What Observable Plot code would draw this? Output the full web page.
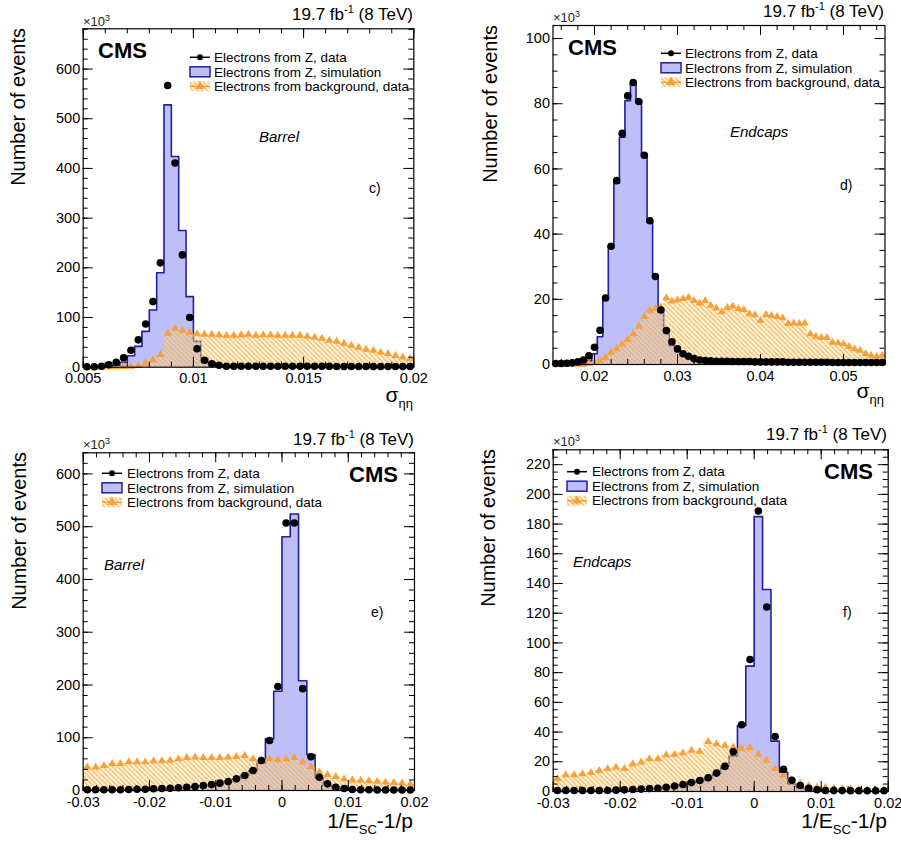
<!DOCTYPE html>
<html><head><meta charset="utf-8">
<script src="https://cdn.jsdelivr.net/npm/d3@7"></script>
<script src="https://cdn.jsdelivr.net/npm/@observablehq/plot@0.6"></script>
<style>
body{margin:0;background:#fff;}
#root{position:relative;width:901px;height:841px;font-family:"Liberation Sans",Arial,sans-serif;overflow:hidden;}
.panel{position:absolute;}
.panel svg{overflow:visible;}
#ov{position:absolute;left:0;top:0;pointer-events:none;}
</style></head><body>
<svg width="0" height="0" style="position:absolute"><defs>
<pattern id="hatch" patternUnits="userSpaceOnUse" width="3.4" height="3.4" patternTransform="rotate(-45)">
<rect width="3.4" height="3.4" fill="rgba(255,225,160,0.35)"/>
<line x1="1" y1="0" x2="1" y2="3.4" stroke="#f6ad4a" stroke-width="1.05"/>
</pattern></defs></svg>
<div id="root"></div>
<script>
// ---------- data (x10^3 events per bin) ----------
// panel c: sigma_ieta_ieta barrel, 45 bins 0.005-0.02
const c_range = [0.005, 0.02];
const c_data = [1,1,2,5,10,19,34,55,87,132,210,567,411,226,100,37,14,7,4,2,2,2,2,2,2,2,2,2,2,2,2,2,2,2,1.5,1.5,1.5,1.5,1.5,1.5,1.5,1.5,1.5,1.5,1.5];
const c_sim  = [0,0.5,1,2,4,10,23,42,72,115,190,528,424,275,142,52,18,7,3,1.5,1.5,1.5,1.5,1.5,1.5,1.5,1.5,1.5,1.5,1.5,1.2,1.2,1.2,1.2,1.2,1.2,1.2,1,1,1,1,1,1,1,1];
const c_bkg  = [0,0,0,0,0.5,1,1.5,3,8,14,25,68,78,74,70,67,66,66,65,64,64,65,66,64,65,65,64,64,64,64,62,60,58,54,52,48,44,40,36,34,30,27,23,20,17];
// panel d: sigma_ieta_ieta endcaps, 60 bins 0.015-0.055
const d_range = [0.015, 0.055];
const d_data = [0.3,0.3,0.4,0.5,0.8,1.4,2.7,5.3,10.5,20.4,36.3,56.4,70.9,82.4,86.5,80.7,64.2,44.1,27,16.7,10.4,7.0,4.8,3.3,2.5,1.8,1.4,1.2,1.1,1.0,1.0,1.0,0.9,0.9,0.9,0.9,0.8,0.8,0.8,0.8,0.8,0.8,0.7,0.7,0.7,0.7,0.7,0.7,0.7,0.7,0.6,0.6,0.6,0.6,0.6,0.6,0.6,0.6,0.6,0.6];
const d_sim  = [0,0,0,0,0.2,0.5,1.2,3.3,8.5,20,36.5,55.6,69.7,80.9,86.2,81,64.2,44,27.3,16,9.5,5.8,3.8,2.6,1.9,1.4,1.1,1.0,0.9,0.8,0.8,0.8,0.8,0.7,0.7,0.7,0.7,0.7,0.7,0.6,0.6,0.6,0.6,0.6,0.6,0.6,0.6,0.5,0.5,0.5,0.5,0.5,0.5,0.5,0.5,0.5,0.5,0.5,0.5,0.5];
const d_bkg  = [0,0,0,0,0,0,0.3,0.6,1.2,2.0,3.7,4.8,6.2,7.6,9.4,11.7,14.6,16.6,17.2,17.7,20.4,19.4,19.8,20.2,20.6,19.6,18.8,19.6,18.1,17.3,16.1,17.4,17.9,17.1,16.8,15.5,15.2,13.5,15.3,15.0,14.7,14.3,12.5,12.7,12.5,12.7,9.4,8.6,8.2,8.2,6.8,6.6,6.3,5.5,4.8,4.3,3.3,2.8,2.5,2.8];
// panel e: 1/E-1/p barrel, 40 bins -0.03-0.02
const e_range = [-0.03, 0.02];
const e_data = [1.3,1.3,1.3,1.3,1.3,1.9,2.5,2.5,3.2,3.8,4.4,5.1,6.3,7.6,9.5,11.4,13.9,17.1,22.1,28.4,37.9,56.9,94.8,197,507,507,193,64,25,12.6,6.3,3.8,1.9,1.3,1.3,1.0,1.0,1.0,1.0,1.0];
const e_sim  = [1.2,1.2,1.2,1.3,1.4,1.8,2.3,2.6,3.1,3.7,4.3,5.0,6.0,7.3,9.0,11,13.5,17,22,29,38,52,98,188,481,524,208,68,24,10,5,3,1.8,1.3,1.1,1,1,1,1,1];
const e_bkg  = [44,44,47,51,51,54,54,54,56,56,57,60,62,63,62,62,62,63,64,66,60,58,60,58,60,62,54,45,35,30,26,22,20,19,18,17,16,15,14,12];
// panel f: 1/E-1/p endcaps, 40 bins -0.03-0.02
const f_range = [-0.03, 0.02];
const f_data = [0.7,0.7,0.7,0.7,0.7,0.7,0.7,0.9,1.1,1.3,1.6,2.0,2.2,2.9,3.7,4.7,6.0,7.4,9.3,12.4,16.9,26.7,44.9,88.9,188.8,124.2,37.0,15.0,7.6,4.0,2.2,1.2,0.7,0.6,0.6,0.5,0.5,0.5,0.5,0.5];
const f_sim  = [0.6,0.6,0.6,0.6,0.7,0.7,0.7,0.9,1.0,1.2,1.5,1.9,2.1,2.8,3.5,4.5,5.7,7.0,9.0,12,17,24,44.4,84.4,185,136,33.9,13,5,2.5,1.3,0.8,0.6,0.5,0.5,0.5,0.5,0.5,0.5,0.5];
const f_bkg  = [8.7,11.2,11.2,11.9,12.6,14.1,15.3,16.4,15.3,18.6,19.8,22.0,22.0,24.7,24.9,26.0,27.6,26.9,33.5,32.1,31.0,29.8,29.0,29.5,25.0,21.0,15.3,11,8,5.5,4,3,2.5,2,1.8,1.5,1.3,1.2,1.1,1.0];

// ---------- axes ----------
const c_xticks = [0.005, 0.01, 0.015, 0.02], c_xlabels = ["0.005","0.01","0.015","0.02"];
const c_yticks = [0,100,200,300,400,500,600];
const d_xticks = [0.02, 0.03, 0.04, 0.05], d_xlabels = ["0.02","0.03","0.04","0.05"];
const d_yticks = [0,20,40,60,80,100];
const e_xticks = [-0.03,-0.02,-0.01,0,0.01,0.02], e_xlabels = ["-0.03","-0.02","-0.01","0","0.01","0.02"];
const e_yticks = [0,100,200,300,400,500,600];
const f_xticks = [-0.03,-0.02,-0.01,0,0.01,0.02], f_xlabels = ["-0.03","-0.02","-0.01","0","0.01","0.02"];
const f_yticks = [0,20,40,60,80,100,120,140,160,180,200,220];

const legendLabels = ["Electrons from Z, data","Electrons from Z, simulation","Electrons from background, data"];

const BLUE_FILL = "#bebef8", BLUE_LINE = "#20209a", ORANGE = "#f9a03a";

const panels = [
 {x0:0,y0:0,w:450,h:420,ml:82.7,mr:36.7,mt:28.3,mb:53.3,range:c_range,yMax:681,data:c_data,sim:c_sim,bkg:c_bkg,xt:c_xticks,xl:c_xlabels,xm:0.001,yt:c_yticks,ym:20,
  ann:{lumi:[413,20],x10:[83,26],ytit:[25,28],cms:[98,58,"start"],leg:[190,214,57.3],reg:["Barrel",259,141.7],let:["c)",369,193],xtit:["sigma",413,402]}},
 {x0:450,y0:0,w:451,h:420,ml:102.5,mr:16.5,mt:25,mb:56,range:d_range,yMax:104,data:d_data,sim:d_sim,bkg:d_bkg,xt:d_xticks,xl:d_xlabels,xm:0.002,yt:d_yticks,ym:5,
  ann:{lumi:[884,17],x10:[553,22],ytit:[497,25],cms:[568,55,"start"],leg:[661,685,53.3],reg:["Endcaps",730,137],let:["d)",840,190],xtit:["sigma",884,398]}},
 {x0:0,y0:420,w:450,h:421,ml:82.7,mr:36,mt:32.3,mb:51,range:e_range,yMax:640,data:e_data,sim:e_sim,bkg:e_bkg,xt:e_xticks,xl:e_xlabels,xm:0.002,yt:e_yticks,ym:20,
  ann:{lumi:[414,445],x10:[83,449],ytit:[26,452],cms:[398,482,"end"],leg:[102,127,473.3],reg:["Barrel",104,570],let:["e)",371,617],xtit:["eop",413,828]}},
 {x0:450,y0:420,w:451,h:421,ml:102.7,mr:13.3,mt:29.3,mb:50,range:f_range,yMax:230,data:f_data,sim:f_sim,bkg:f_bkg,xt:f_xticks,xl:f_xlabels,xm:0.002,yt:f_yticks,ym:5,
  ann:{lumi:[887,440],x10:[553,446],ytit:[495,449],cms:[873,479,"end"],leg:[567,592,471.7],reg:["Endcaps",573,567],let:["f)",843,617],xtit:["eop",887,828]}}
];

function steps(lo, hi, vals){
  const bw = (hi-lo)/vals.length;
  const pts = vals.map((v,i)=>({x: lo+i*bw, y: v}));
  pts.push({x: hi, y: vals[vals.length-1]});
  return pts;
}
function pts(lo, hi, vals){
  const bw = (hi-lo)/vals.length;
  return vals.map((v,i)=>({x: lo+(i+0.5)*bw, y: v}));
}
function minors(lo, hi, step){
  const out=[]; const n0=Math.ceil(lo/step-1e-6), n1=Math.floor(hi/step+1e-6);
  for(let n=n0;n<=n1;n++) out.push(+(n*step).toFixed(6));
  return out;
}

const root = document.getElementById("root");
for(const p of panels){
  const [lo,hi] = p.range;
  const fw = p.w - p.ml - p.mr, fh = p.h - p.mt - p.mb;
  const xmin = minors(lo,hi,p.xm), ymin = minors(0,p.yMax,p.ym);
  const lab = new Map(p.xt.map((v,i)=>[v,p.xl[i]]));
  const simS = steps(lo,hi,p.sim), bkgS = steps(lo,hi,p.bkg);
  const svg = Plot.plot({
    width:p.w, height:p.h, marginLeft:p.ml, marginRight:p.mr, marginTop:p.mt, marginBottom:p.mb,
    style:{fontFamily:"Liberation Sans, Arial, sans-serif", fontSize:"14px", color:"black", background:"transparent"},
    x:{domain:[lo,hi]}, y:{domain:[0,p.yMax]},
    marks:[
      Plot.areaY(simS,{x:"x",y:"y",curve:"step-after",fill:BLUE_FILL}),
      Plot.lineY(simS,{x:"x",y:"y",curve:"step-after",stroke:BLUE_LINE,strokeWidth:1.6}),
      Plot.areaY(bkgS,{x:"x",y:"y",curve:"step-after",fill:"url(#hatch)"}),
      Plot.dot(pts(lo,hi,p.bkg),{x:"x",y:"y",symbol:"triangle",r:3,fill:ORANGE}),
      Plot.dot(pts(lo,hi,p.data),{x:"x",y:"y",r:3.8,fill:"black"}),
      Plot.tickY(ymin,{y:d=>d,insetRight:fw-5,stroke:"black"}),
      Plot.tickY(p.yt,{y:d=>d,insetRight:fw-10,stroke:"black"}),
      Plot.tickY(ymin,{y:d=>d,insetLeft:fw-5,stroke:"black"}),
      Plot.tickY(p.yt,{y:d=>d,insetLeft:fw-10,stroke:"black"}),
      Plot.tickX(xmin,{x:d=>d,insetTop:fh-5,stroke:"black"}),
      Plot.tickX(p.xt,{x:d=>d,insetTop:fh-10,stroke:"black"}),
      Plot.tickX(xmin,{x:d=>d,insetBottom:fh-5,stroke:"black"}),
      Plot.tickX(p.xt,{x:d=>d,insetBottom:fh-10,stroke:"black"}),
      Plot.frame({stroke:"black",strokeWidth:1.2}),
      Plot.axisX(p.xt,{tickSize:0,tickPadding:6,label:null,tickFormat:d=>lab.get(d),fontSize:14.5}),
      Plot.axisY(p.yt,{tickSize:0,tickPadding:3,label:null,tickFormat:d=>String(d),fontSize:14.5})
    ]
  });
  const div = document.createElement("div");
  div.className="panel"; div.style.left=p.x0+"px"; div.style.top=p.y0+"px";
  div.appendChild(svg); root.appendChild(div);
}

// ---------- overlay texts & legends ----------
const ov = d3.select(root).append("svg").attr("id","ov").attr("width",901).attr("height",841)
  .style("font-family","Liberation Sans, Arial, sans-serif");
for(const p of panels){
  const a = p.ann;
  const t = ov.append("text").attr("x",a.lumi[0]).attr("y",a.lumi[1]).attr("text-anchor","end").attr("font-size",17);
  t.append("tspan").text("19.7 fb");
  t.append("tspan").attr("dy",-7).attr("font-size",11).text("-1");
  t.append("tspan").attr("dy",7).text(" (8 TeV)");
  const m = ov.append("text").attr("x",a.x10[0]).attr("y",a.x10[1]).attr("font-size",13).attr("fill","#222");
  m.append("tspan").text("\u00d710");
  m.append("tspan").attr("dy",-5).attr("font-size",9).text("3");
  ov.append("text").attr("transform",`translate(${a.ytit[0]},${a.ytit[1]}) rotate(-90)`).attr("text-anchor","end")
    .attr("font-size",20).text("Number of events");
  ov.append("text").attr("x",a.cms[0]).attr("y",a.cms[1]).attr("text-anchor",a.cms[2]).attr("font-size",22)
    .attr("font-weight","bold").text("CMS");
  ov.append("text").attr("x",a.reg[1]).attr("y",a.reg[2]).attr("font-size",15).attr("font-style","italic").text(a.reg[0]);
  ov.append("text").attr("x",a.let[1]).attr("y",a.let[2]).attr("font-size",14).text(a.let[0]);
  const xt = ov.append("text").attr("x",a.xtit[1]).attr("y",a.xtit[2]).attr("text-anchor","end").attr("font-size",21);
  if(a.xtit[0]==="sigma"){
    xt.append("tspan").text("\u03c3");
    xt.append("tspan").attr("dy",6).attr("font-size",13).text("\u03b7\u03b7");
  } else {
    xt.append("tspan").text("1/E");
    xt.append("tspan").attr("dy",6).attr("font-size",13).text("SC");
    xt.append("tspan").attr("dy",-6).text("-1/p");
  }
  const [sx, tx, ly] = a.leg;
  const rows = [ly, ly+14.5, ly+29];
  legendLabels.forEach((s,i)=>{
    ov.append("text").attr("x",tx).attr("y",rows[i]).attr("dy","0.35em").attr("font-size",13.5).text(s);
  });
  ov.append("line").attr("x1",sx).attr("x2",sx+20).attr("y1",rows[0]).attr("y2",rows[0]).attr("stroke","black").attr("stroke-width",1.5);
  ov.append("circle").attr("cx",sx+10).attr("cy",rows[0]).attr("r",3).attr("fill","black");
  ov.append("rect").attr("x",sx).attr("y",rows[1]-5).attr("width",20).attr("height",10).attr("fill",BLUE_FILL).attr("stroke",BLUE_LINE).attr("stroke-width",1.5);
  ov.append("rect").attr("x",sx).attr("y",rows[2]-5).attr("width",20).attr("height",10).attr("fill","url(#hatch)");
  ov.append("line").attr("x1",sx).attr("x2",sx+20).attr("y1",rows[2]).attr("y2",rows[2]).attr("stroke",ORANGE).attr("stroke-width",1.5);
  ov.append("path").attr("d",d3.symbol(d3.symbolTriangle,40)()).attr("transform",`translate(${sx+10},${rows[2]})`).attr("fill",ORANGE);
}
</script>
</body></html>
